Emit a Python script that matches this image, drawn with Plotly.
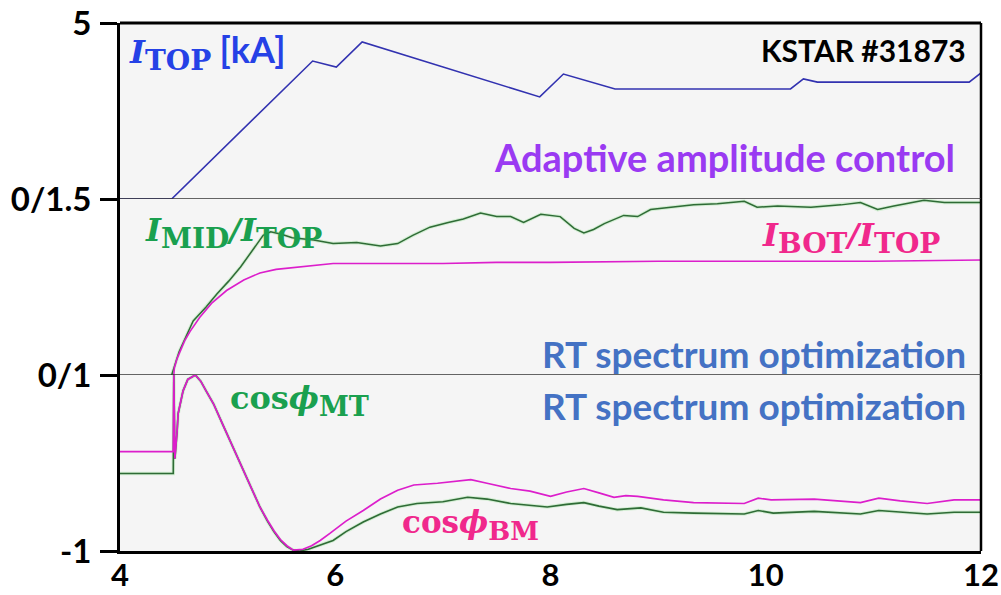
import plotly.graph_objects as go

# ---- discharge time axis [s] ----
X_TICKS = [4, 6, 8, 10, 12]

# ---- I_TOP coil current [kA] ----
t_itop = [4.0, 4.48, 5.79, 6.01, 6.25, 7.90, 8.12, 8.60, 10.23, 10.35, 10.48, 11.89, 12.0]
i_top = [0.0, 0.0, 3.92, 3.75, 4.46, 2.90, 3.55, 3.125, 3.125, 3.41, 3.32, 3.32, 3.58]

# ---- current ratios ----
t_mid = [4.48, 4.55, 4.68, 4.80, 4.90, 5.01, 5.12, 5.22, 5.33, 5.40, 5.50, 5.60, 5.80, 5.98,
         6.20, 6.42, 6.58, 6.72, 6.88, 7.05, 7.19, 7.35, 7.50, 7.63, 7.75, 7.91, 8.09, 8.22,
         8.31, 8.40, 8.50, 8.68, 8.81, 8.93, 9.12, 9.33, 9.55, 9.80, 9.92, 10.11, 10.42,
         10.70, 10.88, 11.04, 11.19, 11.47, 11.66, 12.0]
r_mid = [0.0, 0.20, 0.46, 0.58, 0.69, 0.80, 0.92, 1.05, 1.19, 1.22, 1.20, 1.17, 1.15, 1.12,
         1.13, 1.10, 1.12, 1.19, 1.26, 1.30, 1.33, 1.38, 1.35, 1.35, 1.30, 1.37, 1.35, 1.25,
         1.21, 1.24, 1.29, 1.36, 1.35, 1.41, 1.43, 1.45, 1.46, 1.48, 1.43, 1.44, 1.43,
         1.45, 1.47, 1.41, 1.44, 1.49, 1.47, 1.47]

t_bot = [4.50, 4.505, 4.53, 4.56, 4.60, 4.65, 4.74, 4.85, 4.99, 5.15, 5.30, 5.45, 5.67, 5.98,
         6.5, 7.0, 7.5, 8.0, 9.0, 10.0, 11.0, 12.0]
r_bot = [0.0, 0.06, 0.14, 0.21, 0.29, 0.37, 0.49, 0.61, 0.72, 0.81, 0.87, 0.90, 0.92, 0.95,
         0.95, 0.95, 0.96, 0.96, 0.97, 0.97, 0.97, 0.98]

# ---- relative phase cosines ----
t_mt = [4.0, 4.495, 4.50, 4.51, 4.53, 4.54, 4.586, 4.63, 4.70, 4.75, 4.80, 4.87, 4.95, 5.05,
        5.15, 5.24, 5.30, 5.37, 5.43, 5.49, 5.55, 5.61, 5.67, 5.75, 5.85, 5.98, 6.10, 6.26,
        6.42, 6.58, 6.76, 7.0, 7.23, 7.41, 7.63, 7.97, 8.15, 8.31, 8.45, 8.62, 8.84, 9.05,
        9.33, 9.80, 9.93, 10.07, 10.45, 10.88, 11.05, 11.25, 11.5, 11.75, 12.0]
cos_mt = [-0.12, -0.12, 1.0, 0.05, 0.35, 0.56, 0.82, 0.95, 1.0, 0.93, 0.82, 0.67, 0.45, 0.18,
          -0.09, -0.34, -0.50, -0.66, -0.78, -0.88, -0.95, -0.99, -1.0, -0.98, -0.94, -0.88,
          -0.78, -0.67, -0.58, -0.50, -0.46, -0.44, -0.39, -0.41, -0.46, -0.50, -0.47, -0.45,
          -0.49, -0.53, -0.51, -0.56, -0.57, -0.58, -0.54, -0.57, -0.55, -0.58, -0.54, -0.56,
          -0.58, -0.56, -0.56]

t_bm = [4.0, 4.495, 4.50, 4.51, 4.53, 4.54, 4.586, 4.63, 4.70, 4.75, 4.80, 4.87, 4.95, 5.05,
        5.15, 5.24, 5.30, 5.37, 5.43, 5.49, 5.55, 5.61, 5.70, 5.78, 5.86, 5.95, 6.10, 6.26,
        6.42, 6.58, 6.73, 6.95, 7.10, 7.26, 7.41, 7.63, 7.81, 8.0, 8.15, 8.31, 8.45, 8.59,
        8.70, 8.81, 9.05, 9.33, 9.80, 9.93, 10.05, 10.45, 10.88, 11.05, 11.25, 11.5, 11.75, 12.0]
cos_bm = [0.13, 0.13, 1.0, 0.05, 0.35, 0.56, 0.82, 0.95, 1.0, 0.93, 0.82, 0.67, 0.45, 0.18,
          -0.09, -0.34, -0.50, -0.65, -0.77, -0.87, -0.94, -0.99, -0.98, -0.94, -0.88, -0.80,
          -0.66, -0.54, -0.41, -0.31, -0.25, -0.23, -0.21, -0.19, -0.23, -0.29, -0.32, -0.38,
          -0.33, -0.29, -0.34, -0.39, -0.37, -0.38, -0.42, -0.45, -0.46, -0.40, -0.42, -0.41,
          -0.45, -0.40, -0.43, -0.46, -0.42, -0.42]

BLUE = "#3232b0"
GREEN = "#2f6b36"
MAGENTA = "#dc1ecb"
SANS = "Lato"
SERIF = "DejaVu Serif"

W, H = 1001, 595
L, R, T, B = 120, 20, 23, 44


def paper(px, py):
    """Pixel position inside the page -> paper coordinates."""
    return (px - L) / (W - L - R), (H - B - py) / (H - T - B)


fig = go.Figure()

halo = dict(color="rgba(150,225,150,0.35)", width=3.5)
fig.add_trace(go.Scatter(x=t_itop, y=i_top, mode="lines", line=dict(color=BLUE, width=1.6),
                         yaxis="y", hoverinfo="skip"))
fig.add_trace(go.Scatter(x=t_mid, y=r_mid, mode="lines", line=halo, yaxis="y2", hoverinfo="skip"))
fig.add_trace(go.Scatter(x=t_mid, y=r_mid, mode="lines", line=dict(color=GREEN, width=1.5),
                         yaxis="y2", hoverinfo="skip"))
fig.add_trace(go.Scatter(x=t_bot, y=r_bot, mode="lines", line=dict(color=MAGENTA, width=1.6),
                         yaxis="y2", hoverinfo="skip"))
fig.add_trace(go.Scatter(x=t_mt, y=cos_mt, mode="lines", line=halo, yaxis="y3", hoverinfo="skip"))
fig.add_trace(go.Scatter(x=t_mt, y=cos_mt, mode="lines", line=dict(color=GREEN, width=1.6),
                         yaxis="y3", hoverinfo="skip"))
fig.add_trace(go.Scatter(x=t_bm, y=cos_bm, mode="lines", line=dict(color=MAGENTA, width=1.7),
                         yaxis="y3", hoverinfo="skip"))

ytickfont = dict(family=SANS, size=33, color="black")
xtickfont = dict(family=SANS, size=31, color="black")
yax_common = dict(showline=True, linewidth=3, linecolor="black", ticks="outside", ticklen=17,
                  tickwidth=3, tickcolor="black", showgrid=False, zeroline=False,
                  tickfont=ytickfont, fixedrange=True, automargin=False, ticklabelstandoff=2)


def bold(labels):
    return [f"<b>{s}</b>" for s in labels]


fig.update_layout(
    width=W, height=H,
    margin=dict(l=L, r=R, t=T, b=B, autoexpand=False),
    paper_bgcolor="white",
    plot_bgcolor="#f5f5f5",
    showlegend=False,
    xaxis=dict(range=[4, 12], tickvals=X_TICKS, ticktext=bold([str(v) for v in X_TICKS]),
               showline=True, linewidth=3, linecolor="black", ticks="", showgrid=False,
               zeroline=False, tickfont=xtickfont, anchor="y3", fixedrange=True,
               automargin=False, ticklabelstandoff=-5),
    yaxis=dict(domain=[2 / 3, 1], range=[0, 5], tickvals=[0, 5],
               ticktext=bold(["0/1.5", "5"]), anchor="x", **yax_common),
    yaxis2=dict(domain=[1 / 3, 2 / 3], range=[0, 1.5], tickvals=[0],
                ticktext=bold(["0/1"]), anchor="x", **yax_common),
    yaxis3=dict(domain=[0, 1 / 3], range=[-1, 1], tickvals=[-1],
                ticktext=bold(["-1"]), anchor="x", **yax_common),
)

# frame: top and right edges, plus the panel separators
fig.add_shape(type="line", xref="paper", yref="paper", x0=0, x1=1, y0=1, y1=1,
              line=dict(color="black", width=3))
fig.add_shape(type="line", xref="paper", yref="paper", x0=1, x1=1, y0=0, y1=1,
              line=dict(color="black", width=2.5))
fig.add_shape(type="line", xref="paper", yref="y", x0=0, x1=1, y0=0, y1=0,
              line=dict(color="#333333", width=1.3))
fig.add_shape(type="line", xref="paper", yref="y2", x0=0, x1=1, y0=0, y1=0,
              line=dict(color="#333333", width=1.3))


def serif_i(letter):
    return f"<span style=\"font-family:'{SERIF}';font-style:italic;font-weight:bold\">{letter}</span>"


def serif_sub(text, size):
    return (f"<sub><span style=\"font-family:'{SERIF}';font-weight:bold;font-style:normal;"
            f"font-size:{size}px\">{text}</span></sub>")


def note(text, px, py, color, size, xanchor="left"):
    x, y = paper(px, py)
    fig.add_annotation(text=text, x=x, y=y, xref="paper", yref="paper", xanchor=xanchor,
                       yanchor="middle", showarrow=False,
                       font=dict(family=SANS, size=size, color=color))


note(serif_i("I") + serif_sub("TOP", 28) + " <b><span style=\"font-size:36px\">[kA]</span></b>",
     127, 52, "#2541e6", 32)
note("<b>KSTAR #31873</b>", 968, 50, "black", 30, xanchor="right")
note("<b>Adaptive amplitude control</b>", 957, 157, "#9a3af2", 38, xanchor="right")
note(serif_i("I") + serif_sub("MID", 28) + serif_i("/I") + serif_sub("TOP", 28),
     143, 233, "#1aa04f", 32)
note(serif_i("I") + serif_sub("BOT", 28) + serif_i("/I") + serif_sub("TOP", 28),
     760, 238, "#f0288c", 32)
note("<b>RT spectrum optimization</b>", 968, 353, "#4472c4", 37, xanchor="right")
note("<b>RT spectrum optimization</b>", 968, 405, "#4472c4", 37, xanchor="right")
note(f"<span style=\"font-family:'{SERIF}';font-weight:bold\">cos</span>" + serif_i("ϕ")
     + serif_sub("MT", 27), 228, 400, "#1aa04f", 32)
note(f"<span style=\"font-family:'{SERIF}';font-weight:bold\">cos</span>" + serif_i("ϕ")
     + serif_sub("BM", 26), 400, 525, "#f0288c", 31)

fig.write_html("out.html")
